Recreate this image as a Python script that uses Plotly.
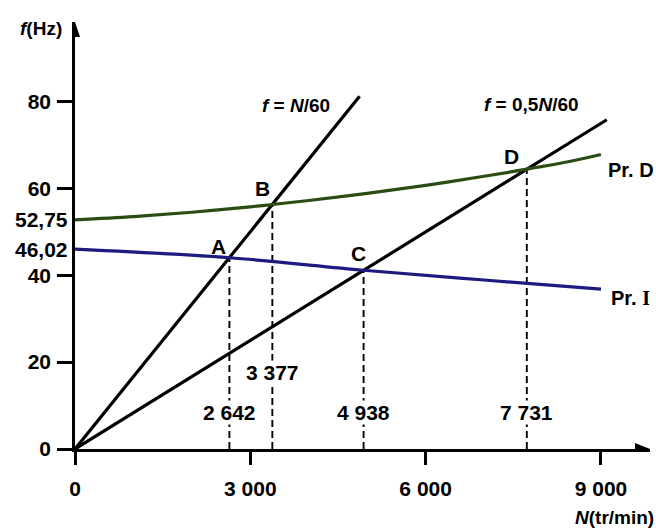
import plotly.graph_objects as go

# ---- data ----
line1_N = [0, 4870]          # f = N/60
line1_f = [0, 81.2]
line2_N = [0, 9100]          # f = 0,5N/60
line2_f = [0, 75.8]

prD_N = [0, 1000, 2000, 3000, 3377, 4000, 5000, 6000, 7000, 7731, 8500, 9000]
prD_f = [52.75, 53.5, 54.5, 55.75, 56.28, 57.2, 58.85, 60.7, 62.8, 64.42, 66.3, 67.8]

prI_N = [0, 2642, 4938, 7000, 9000]
prI_f = [46.02, 44.03, 41.15, 38.9, 36.8]

cross_N = [2642, 3377, 4938, 7731]
cross_f = [44.03, 56.28, 41.15, 64.42]
cross_lab = ["2 642", "3 377", "4 938", "7 731"]
cross_lab_f = [8.5, 17.5, 8.5, 8.5]

pt_names = ["A", "B", "C", "D"]
pt_N = [2460, 3210, 4850, 7470]
pt_f = [46.7, 59.9, 44.9, 67.4]

x_ticks = [0, 3000, 6000, 9000]
x_ticktext = ["0", "3 000", "6 000", "9 000"]
y_ticks = [0, 20, 40, 60, 80]
y_extra = [52.75, 46.02]
y_extra_text = ["52,75", "46,02"]

XMAX = 9839
YMAX = 98.3
FONT = "Liberation Sans, Arial, sans-serif"
FS = 21
FW = "bold"

fig = go.Figure()

# dashed verticals
for n, f in zip(cross_N, cross_f):
    fig.add_trace(go.Scatter(x=[n, n], y=[0, f], mode="lines",
                             line=dict(color="black", width=1.9, dash="7px,4px"),
                             hoverinfo="skip"))

fig.add_trace(go.Scatter(x=line1_N, y=line1_f, mode="lines",
                         line=dict(color="black", width=3.2)))
fig.add_trace(go.Scatter(x=line2_N, y=line2_f, mode="lines",
                         line=dict(color="black", width=3.2)))
fig.add_trace(go.Scatter(x=prD_N, y=prD_f, mode="lines",
                         line=dict(color="#2b4d14", width=3.2, shape="spline")))
fig.add_trace(go.Scatter(x=prI_N, y=prI_f, mode="lines",
                         line=dict(color="#1c1c80", width=3.2, shape="spline")))

ann = []
for n, lab, fl in zip(cross_N, cross_lab, cross_lab_f):
    ann.append(dict(x=n, y=fl, text=lab, showarrow=False, bgcolor="white",
                    borderpad=0, font=dict(size=FS)))
for n, f, t in zip(pt_N, pt_f, pt_names):
    ann.append(dict(x=n, y=f, text=t, showarrow=False, font=dict(size=FS)))
for v, t in zip(y_extra, y_extra_text):
    ann.append(dict(x=0, y=v, text=t, showarrow=False, xanchor="right",
                    xshift=-5, font=dict(size=FS)))
ann.append(dict(x=3773, y=79, text="<i>f</i> = <i>N</i>/60", showarrow=False,
                font=dict(size=FS - 2)))
ann.append(dict(x=7803, y=79.3, text="<i>f</i> = 0,5<i>N</i>/60", showarrow=False,
                font=dict(size=FS - 2)))
ann.append(dict(x=1, y=64.3, xref="paper", text="Pr. D", showarrow=False,
                xanchor="right", xshift=6, font=dict(size=FS - 1)))
ann.append(dict(x=9130, y=34.7, text="Pr. <span style='font-family:Liberation Serif'>I</span>",
                showarrow=False, xanchor="left", font=dict(size=FS - 1)))
ann.append(dict(x=0, y=1, xref="paper", yref="paper", text="<i>f</i>(Hz)",
                showarrow=False, xanchor="right", yanchor="middle", xshift=-11,
                yshift=-6, font=dict(size=FS - 2)))
ann.append(dict(x=1, y=0, xref="paper", yref="paper", text="<i>N</i>(tr/min)",
                showarrow=False, xanchor="right", yanchor="middle", xshift=6,
                yshift=-68, font=dict(size=FS - 2)))

shapes = [
    dict(type="path", xref="x", yref="y", xsizemode="pixel", ysizemode="pixel",
         xanchor=XMAX, yanchor=0, path="M 0 0 L -15 6 L -15 -6 Z",
         fillcolor="black", line=dict(width=0)),
    dict(type="path", xref="x", yref="y", xsizemode="pixel", ysizemode="pixel",
         xanchor=0, yanchor=YMAX, path="M 0 0 L -5 -15 L 5 -15 Z",
         fillcolor="black", line=dict(width=0)),
]

fig.update_layout(
    width=656, height=528,
    margin=dict(l=75, r=6, t=22, b=79),
    paper_bgcolor="white", plot_bgcolor="white",
    showlegend=False,
    font=dict(family=FONT, size=FS, color="black", weight=FW),
    annotations=ann, shapes=shapes,
    xaxis=dict(range=[0, XMAX], showgrid=False, zeroline=False,
               showline=True, linecolor="black", linewidth=2.5,
               tickvals=x_ticks, ticktext=x_ticktext, ticks="outside",
               ticklen=13, tickwidth=2.5, tickcolor="black",
               ticklabelstandoff=6),
    yaxis=dict(range=[0, YMAX], showgrid=False, zeroline=False,
               showline=True, linecolor="black", linewidth=2.5,
               tickvals=y_ticks, ticks="outside",
               ticklen=15, tickwidth=2.5, tickcolor="black",
               ticklabelstandoff=2),
)

fig.write_html("out.html", config={"displayModeBar": False},
               post_script="document.body.style.margin='0';document.body.style.overflow='hidden';")
